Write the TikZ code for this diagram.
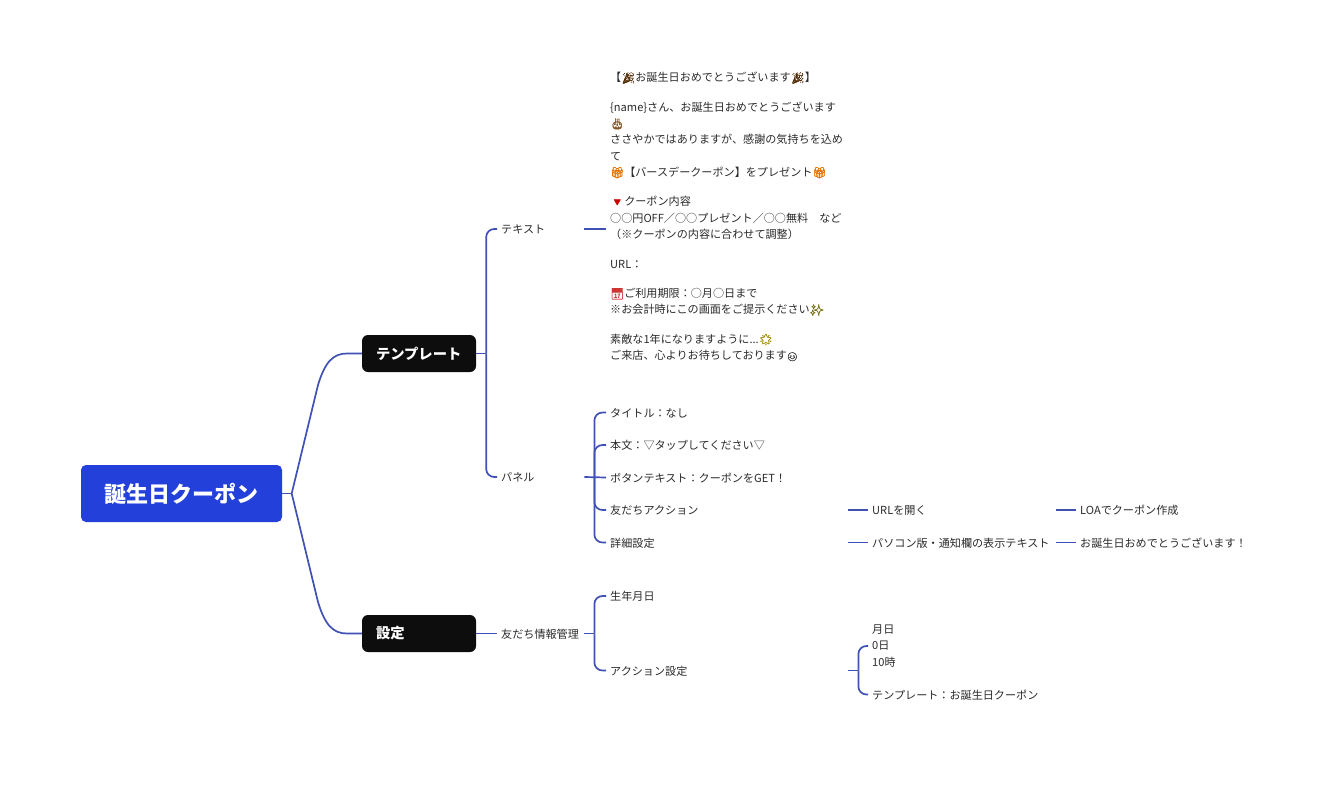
\documentclass[tikz,border=0pt]{standalone}
\usepackage{fontspec, xcolor}
\usetikzlibrary{positioning}
\setmainfont{Noto Sans CJK JP}
\newfontfamily\emojifont[FakeBold=1.2]{Noto Emoji}
\definecolor{linkblue}{HTML}{3F51B5}
\definecolor{rootblue}{HTML}{2341DA}
\definecolor{tabblack}{HTML}{0D0D0D}
\definecolor{inkgray}{HTML}{2A2A2A}
\newcommand{\emo}[2]{\textcolor{#1}{\emojifont #2}}

\begin{document}
\begin{tikzpicture}[x=1pt, y=-1pt, on grid,
   link/.style={draw=linkblue, line width=1.7pt, rounded corners=8pt},
   root/.style={fill=rootblue, text=white, rounded corners=5pt, minimum width=201pt, minimum height=57pt, font=\fontsize{22}{26}\selectfont\bfseries},
   tab/.style={fill=tabblack, text=white, rounded corners=6pt, text width=86pt, inner xsep=14pt, minimum height=37pt, align=left, font=\fontsize{14.3}{17}\selectfont\bfseries},
   leaf/.style={text=inkgray, text width=#1, inner xsep=4pt, inner ysep=2pt, text height=9.5pt, text depth=0pt, align=left, font=\fontsize{11.1}{16.3}\selectfont},
   block/.style={text=inkgray, inner xsep=4pt, inner ysep=0pt, align=left, font=\fontsize{11.1}{16.3}\selectfont},
   fork/.style={coordinate}]
   \useasboundingbox (0,0) rectangle (1320,795);

   \node[root] (birthday) at (181.5,493.5) {誕生日クーポン};
   \node[tab] (template) at (419,353.5) {テンプレート};
   \node[tab] (settings) at (419,633.5) {設定};

   % second column
   \node[leaf=79pt, anchor=west] (textTab) at (497,229) {テキスト};
   \node[leaf=79pt, anchor=west] (panelTab) at (497,477) {パネル};
   \node[leaf=79pt, anchor=west] (friendInfo) at (497,633.5) {友だち情報管理};

   \node[block, anchor=north west] (textBody) at (606,72) {%
      【\emo{black!70!orange}{🎉}お誕生日おめでとうございます\emo{black!70!orange}{🎉}】\\[13.2pt]
      \{name\}さん、お誕生日おめでとうございます\\
      \emo{brown!70!black}{🎂}\\
      ささやかではありますが、感謝の気持ちを込め\\
      て\\
      \emo{orange!90!black}{🎁}【バースデークーポン】をプレゼント\emo{orange!90!black}{🎁}\\[13.2pt]
      \emo{red!80!black}{🔻}クーポン内容\\
      ○○円OFF／○○プレゼント／○○無料　など\\
      （※クーポンの内容に合わせて調整）\\[13.2pt]
      URL：\\[13.2pt]
      \emo{red!60!gray}{📅}ご利用期限：○月○日まで\\
      ※お会計時にこの画面をご提示ください\emo{olive!80!black}{✨}\\[13.2pt]
      素敵な1年になりますように...\emo{olive!80!orange}{🌟}\\
      ご来店、心よりお待ちしております{\fontsize{8.5}{16.3}\selectfont\emo{inkgray}{😊}}};

   % panel rows
   \node[leaf=234pt, anchor=west] (panelTitle) at (606,412.5) {タイトル：なし};
   \node[leaf=234pt] (panelMain) [below=32.5pt of panelTitle] {本文：▽タップしてください▽};
   \node[leaf=234pt] (panelButton) [below=32.5pt of panelMain] {ボタンテキスト：クーポンをGET！};
   \node[leaf=234pt] (panelAction) [below=32.5pt of panelButton] {友だちアクション};
   \node[leaf=234pt] (panelDetail) [below=32.5pt of panelAction] {詳細設定};

   \node[leaf=180pt, anchor=west] (openUrl) at (868,510) {URLを開く};
   \node[leaf=180pt] (pcNotice) [below=32.5pt of openUrl] {パソコン版・通知欄の表示テキスト};
   \node[leaf=170pt, anchor=west] (loaCoupon) at (1076,510) {LOAでクーポン作成};
   \node[leaf=170pt] (greeting) [below=32.5pt of loaCoupon] {お誕生日おめでとうございます！};

   % settings rows
   \node[leaf=234pt, anchor=west] (birthDate) at (606,596) {生年月日};
   \node[leaf=234pt] (actionSet) [below=74.5pt of birthDate] {アクション設定};
   \node[block, anchor=west] (dateTime) at (868,646) {月日\\0日\\10時};
   \node[leaf=180pt, anchor=west] (templateName) at (868,694.5) {テンプレート：お誕生日クーポン};

   % forks
   \node[fork] (rootFork) [right=9.5pt of birthday.east] {};
   \node[fork] (templateFork) [right=10pt of template.east] {};
   \node[fork] (panelFork) [right=10pt of panelTab.east] {};
   \node[fork] (friendFork) [right=10pt of friendInfo.east] {};
   \node[fork] (actionFork) [right=10pt of actionSet.east] {};

   \path[link]
    (birthday.east) edge (rootFork)
    (rootFork) edge [rounded corners=0pt, to path={-- (318,385) .. controls (325,362) and (333,353.5) .. (347,353.5) -- (\tikztotarget)}] (template.west)
    (rootFork) edge [rounded corners=0pt, to path={-- (318,602) .. controls (325,625) and (333,633.5) .. (347,633.5) -- (\tikztotarget)}] (settings.west)
    (template.east) edge (templateFork)
    (templateFork) edge [to path={|- (\tikztotarget)}] (textTab.west)
    (templateFork) edge [to path={|- (\tikztotarget)}] (panelTab.west)
    (settings.east) edge (friendInfo.west)
    (textTab.east) edge (textTab.east -| textBody.west)
    (panelTab.east) edge (panelButton.west)
    (panelFork) edge [to path={|- (\tikztotarget)}] (panelTitle.west)
    (panelFork) edge [to path={|- (\tikztotarget)}] (panelMain.west)
    (panelFork) edge [to path={|- (\tikztotarget)}] (panelAction.west)
    (panelFork) edge [to path={|- (\tikztotarget)}] (panelDetail.west)
    (panelAction.east) edge (openUrl.west)
    (panelDetail.east) edge (pcNotice.west)
    (openUrl.east) edge (loaCoupon.west)
    (pcNotice.east) edge (greeting.west)
    (friendInfo.east) edge (friendFork)
    (friendFork) edge [to path={|- (\tikztotarget)}] (birthDate.west)
    (friendFork) edge [to path={|- (\tikztotarget)}] (actionSet.west)
    (actionSet.east) edge (actionFork)
    (actionFork) edge [to path={|- (\tikztotarget)}] (dateTime.west)
    (actionFork) edge [to path={|- (\tikztotarget)}] (templateName.west);
\end{tikzpicture}
\end{document}
